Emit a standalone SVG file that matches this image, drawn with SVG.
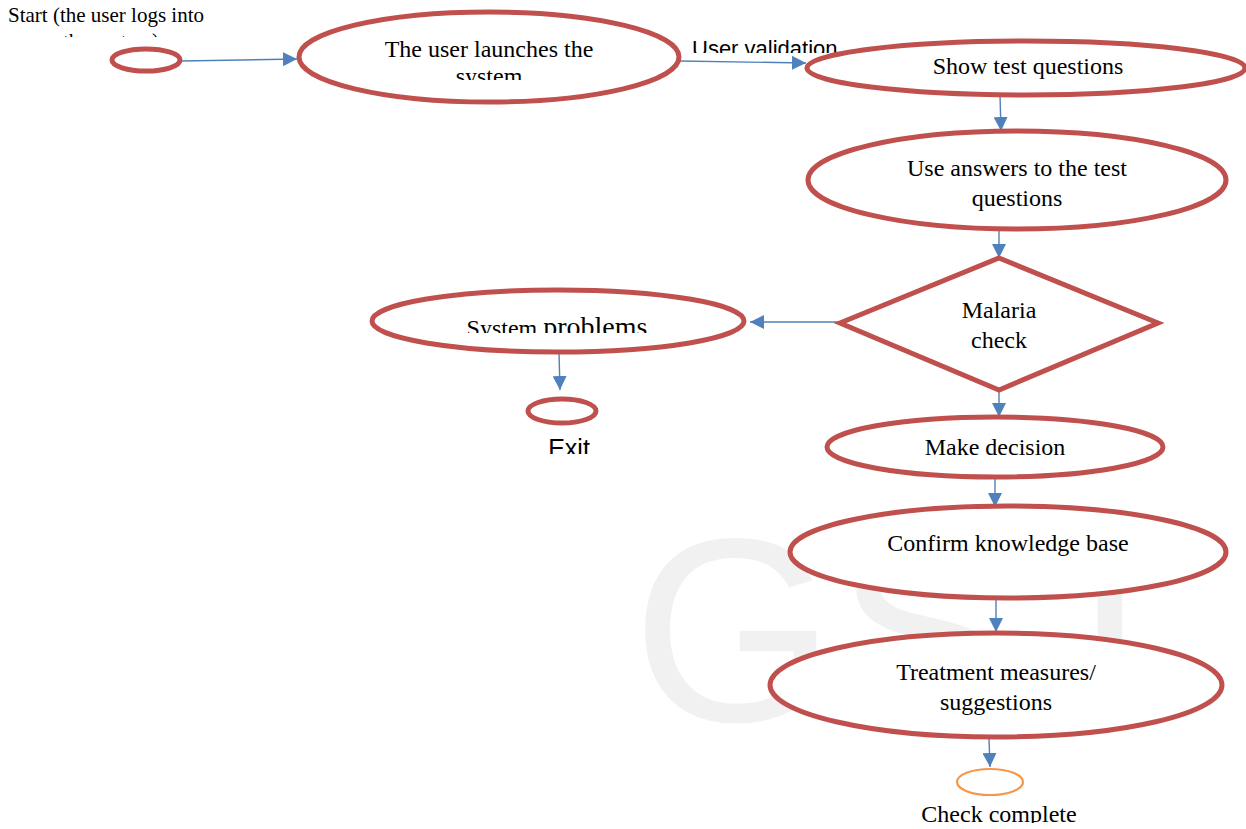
<svg xmlns="http://www.w3.org/2000/svg" width="1246" height="829" viewBox="0 0 1246 829">
  <style>
    .node { fill: #ffffff; stroke: #c0504d; stroke-width: 5; }
    .term { fill: none; stroke: #c0504d; stroke-width: 5; }
    .end { fill: none; stroke: #f79646; stroke-width: 2.2; }
    .edge { stroke: #4f81bd; stroke-width: 1.4; fill: none; marker-end: url(#arrow); }
    .lbl { font-family: 'Liberation Serif', 'DejaVu Serif', serif; font-size: 24px; fill: #000; text-anchor: middle; }
    .sans { font-family: 'Liberation Sans', 'DejaVu Sans', sans-serif; font-size: 22px; fill: #000; }
    .mark { font-family: 'Liberation Sans', 'DejaVu Sans', sans-serif; font-size: 262px; fill: #f1f1f1; }
  </style>
  <defs>
    <marker id="arrow" viewBox="0 0 10 10" refX="10" refY="5" markerWidth="14" markerHeight="14" markerUnits="userSpaceOnUse" orient="auto">
      <path d="M0,0 L10,5 L0,10 z" fill="#4f81bd"/>
    </marker>
    <clipPath id="clipStart"><rect x="0" y="0" width="260" height="37"/></clipPath>
    <clipPath id="clipLaunch"><rect x="300" y="20" width="380" height="60"/></clipPath>
    <clipPath id="clipValid"><rect x="680" y="30" width="180" height="23"/></clipPath>
    <clipPath id="clipSys"><rect x="380" y="300" width="360" height="33"/></clipPath>
    <clipPath id="clipExit"><rect x="520" y="430" width="90" height="24"/></clipPath>
    <clipPath id="clipDone"><rect x="900" y="795" width="200" height="28"/></clipPath>
  </defs>

  <rect width="1246" height="829" fill="#ffffff"/>

  <!-- background watermark -->
  <text class="mark" x="632" y="721">GSJ</text>

  <!-- connectors -->
  <g id="connectors">
    <line class="edge" x1="181" y1="61" x2="297" y2="59"/>
    <line class="edge" x1="680" y1="61" x2="806" y2="63"/>
    <line class="edge" x1="1000" y1="95" x2="1001" y2="131"/>
    <line class="edge" x1="999" y1="230" x2="999" y2="258"/>
    <line class="edge" x1="840" y1="322" x2="750" y2="322"/>
    <line class="edge" x1="559" y1="352" x2="560" y2="390"/>
    <line class="edge" x1="999" y1="392" x2="999" y2="417"/>
    <line class="edge" x1="995" y1="478" x2="995" y2="507"/>
    <line class="edge" x1="996" y1="600" x2="996" y2="632"/>
    <line class="edge" x1="989" y1="738" x2="990" y2="767"/>
  </g>

  <!-- start point -->
  <g id="start">
    <ellipse class="term" cx="146" cy="60" rx="34" ry="11"/>
    <g clip-path="url(#clipStart)">
      <text class="lbl" style="font-size:21px;text-anchor:start" x="8" y="22">Start (the user logs into</text>
      <text class="lbl" style="font-size:21px" x="111" y="48">the system)</text>
    </g>
  </g>

  <g id="launch">
    <ellipse class="node" cx="489" cy="57" rx="190" ry="45"/>
    <g clip-path="url(#clipLaunch)">
      <text class="lbl" x="489" y="57">The user launches the</text>
      <text class="lbl" x="489" y="84">system</text>
    </g>
  </g>

  <g id="validation-label" clip-path="url(#clipValid)">
    <text class="sans" x="692" y="56">User validation</text>
  </g>

  <g id="show-questions">
    <ellipse class="node" cx="1026" cy="68" rx="219" ry="27"/>
    <text class="lbl" x="1028" y="74">Show test questions</text>
  </g>

  <g id="use-answers">
    <ellipse class="node" cx="1017" cy="180" rx="209" ry="49"/>
    <text class="lbl" x="1017" y="176">Use answers to the test</text>
    <text class="lbl" x="1017" y="206">questions</text>
  </g>

  <g id="malaria-check">
    <polygon class="node" points="999,258 1158,323 999,390 840,323"/>
    <text class="lbl" x="999" y="318">Malaria</text>
    <text class="lbl" x="999" y="348">check</text>
  </g>

  <g id="system-problems">
    <ellipse class="node" cx="558" cy="321" rx="186" ry="31"/>
    <g clip-path="url(#clipSys)">
      <text class="lbl" x="557" y="336"><tspan style="font-size:24px">System </tspan><tspan style="font-size:28px">problems</tspan></text>
    </g>
  </g>

  <g id="exit">
    <ellipse class="term" cx="562" cy="411" rx="34" ry="12"/>
    <g clip-path="url(#clipExit)">
      <text class="sans" style="text-anchor:middle;font-size:25px" x="569" y="457">Exit</text>
    </g>
  </g>

  <g id="make-decision">
    <ellipse class="node" cx="995" cy="447" rx="168" ry="30"/>
    <text class="lbl" x="995" y="455">Make decision</text>
  </g>

  <g id="confirm-kb">
    <ellipse class="node" cx="1008" cy="552" rx="218" ry="46"/>
    <text class="lbl" x="1008" y="551">Confirm knowledge base</text>
  </g>

  <g id="treatment">
    <ellipse class="node" cx="996" cy="685" rx="226" ry="52"/>
    <text class="lbl" x="996" y="680">Treatment measures/</text>
    <text class="lbl" x="996" y="710">suggestions</text>
  </g>

  <g id="check-complete">
    <ellipse class="end" cx="990" cy="782" rx="33" ry="13"/>
    <g clip-path="url(#clipDone)">
      <text class="lbl" x="999" y="822">Check complete</text>
    </g>
  </g>
</svg>
